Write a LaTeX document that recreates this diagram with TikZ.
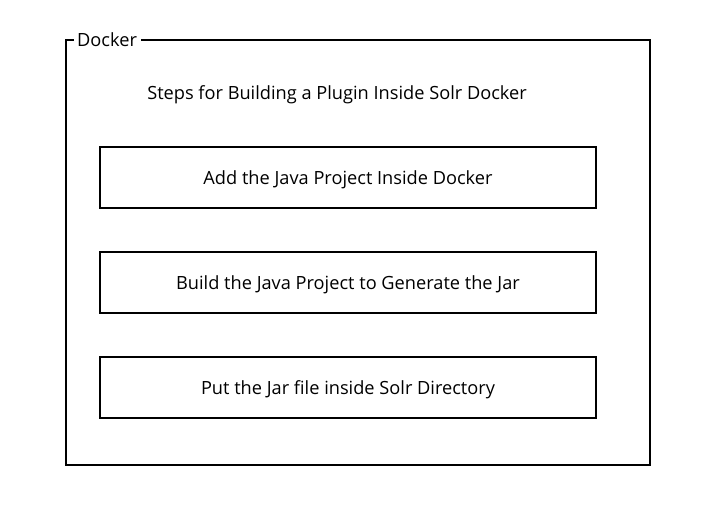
\documentclass[tikz,border=0pt]{standalone}
\usepackage{fontspec}
\setmainfont{Open Sans}
\begin{document}
\begin{tikzpicture}[x=1pt,y=-1pt,
  txt/.style={font=\fontsize{18.2}{21}\selectfont},
  stepbox/.style={draw=black,line width=1.4pt,minimum width=496pt,minimum height=61pt,inner sep=0pt,text height=13pt,text depth=0pt,txt},
  frameline/.style={draw=black,line width=1.4pt},
  lbl/.style={inner sep=0pt,txt}]
\useasboundingbox (0,0) rectangle (720,508);
\node[lbl,anchor=west] (dock) at (77,40) {Docker};
\coordinate (tl) at (66,40);
\coordinate (tr) at (650,40);
\coordinate (br) at (650,465);
\coordinate (bl) at (66,465);
\draw[frameline] ([xshift=4pt]dock.east |- tl) -- (tr) -- (br) -- (bl) -- (tl) -- ([xshift=-3pt]dock.west |- tl);
\node[lbl] (title) at (337,95) {Steps for Building a Plugin Inside Solr Docker};
\node[stepbox] (s1) at (348,177.5) {Add the Java Project Inside Docker};
\node[stepbox] (s2) at (348,282.5) {Build the Java Project to Generate the Jar};
\node[stepbox] (s3) at (348,387.5) {Put the Jar file inside Solr Directory};
\end{tikzpicture}
\end{document}
